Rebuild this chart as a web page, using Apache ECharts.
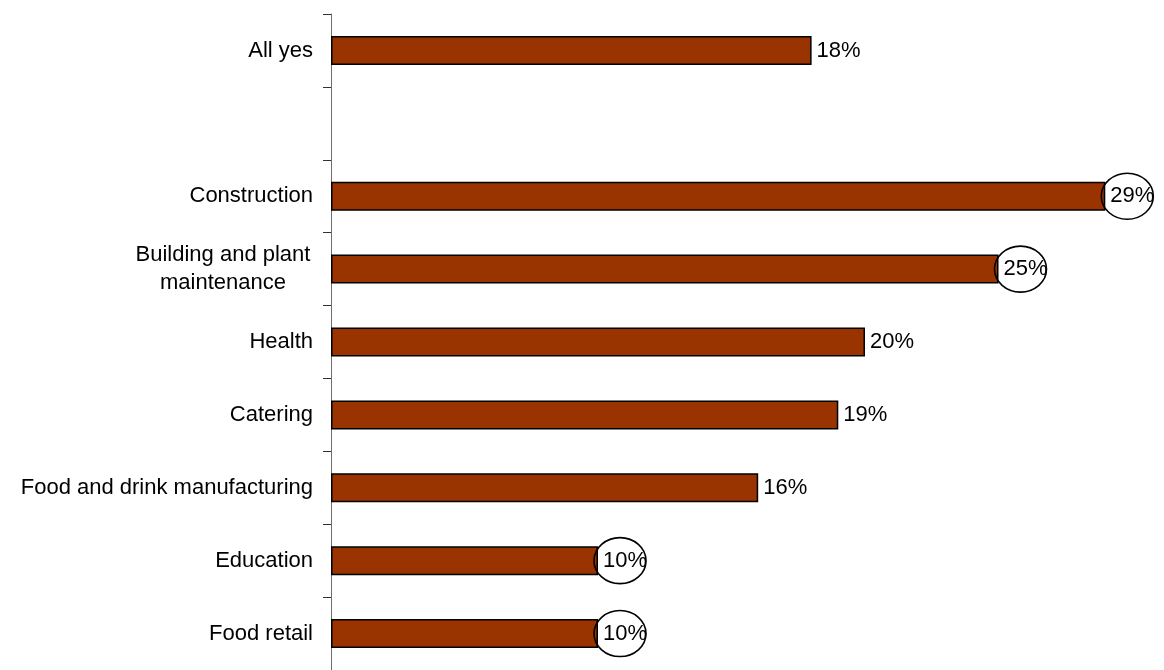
<!DOCTYPE html>
<html>
<head>
<meta charset="utf-8">
<script src="https://cdn.jsdelivr.net/npm/echarts@6/dist/echarts.min.js"></script>
<style>html,body{margin:0;padding:0;background:#fff}#c{width:1164px;height:670px}</style>
</head>
<body>
<div id="c"></div>
<script>
const categories = ['All yes', '', 'Construction', 'Building and plant\nmaintenance', 'Health', 'Catering', 'Food and drink manufacturing', 'Education', 'Food retail'];
const values = [18, null, 29, 25, 20, 19, 16, 10, 10];
const circled = ['Construction', 'Building and plant\nmaintenance', 'Education', 'Food retail'];

const FONT = '"Liberation Sans", Arial, sans-serif';
const chart = echarts.init(document.getElementById('c'), null, {renderer: 'canvas'});

const circleData = circled.map(c => {
  const i = categories.indexOf(c);
  return [values[i], i];
});

chart.setOption({
  animation: false,
  backgroundColor: '#fff',
  grid: {left: 331, right: 32, top: 14, bottom: -6.4, containLabel: false},
  xAxis: {type: 'value', min: 0, max: 30, show: false},
  yAxis: {
    type: 'category', inverse: true, data: categories,
    axisLine: {show: true, lineStyle: {color: '#6e6e6e', width: 1}},
    axisTick: {show: true, length: 8, lineStyle: {color: '#333', width: 1}},
    axisLabel: {
      margin: 18, color: '#000', fontFamily: FONT, fontSize: 22,
      formatter: v => v.indexOf('\n') >= 0 ? v.split('\n').map(s => '{c|' + s + '}').join('\n') : v,
      rich: {c: {width: 180, align: 'center', fontFamily: FONT, fontSize: 22, lineHeight: 28, color: '#000'}}
    }
  },
  series: [{
    type: 'bar', data: values, barWidth: 29,
    itemStyle: {color: '#993300', borderColor: '#000', borderWidth: 1.5},
    label: {show: true, position: 'right', distance: 5, formatter: p => p.value + '%', color: '#000', fontFamily: FONT, fontSize: 22},
    z: 2
  }, {
    type: 'custom', data: circleData, encode: {x: 0, y: 1}, z: 3, silent: true,
    renderItem: (params, api) => {
      const p = api.coord([api.value(0), api.value(1)]);
      return {
        type: 'ellipse',
        shape: {cx: p[0] + 22, cy: p[1], rx: 26, ry: 23},
        style: {fill: 'none', stroke: '#000', lineWidth: 1.6}
      };
    }
  }]
});
</script>
</body>
</html>
